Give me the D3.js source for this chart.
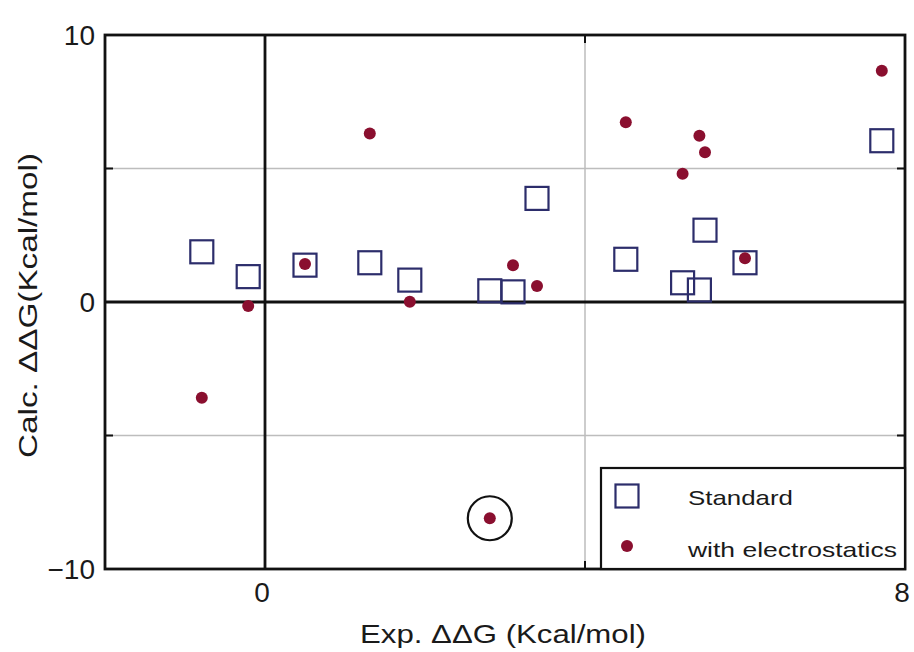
<!DOCTYPE html>
<html>
<head>
<meta charset="utf-8">
<script src="https://cdn.jsdelivr.net/npm/d3@7"></script>
<style>
  body { margin: 0; background: #fff; }
  text { font-family: "Liberation Sans", Arial, sans-serif; fill: #1a1a1a; }
</style>
</head>
<body>
<div id="chart"></div>
<script>
// DATA ///////////////////////////////////////////////////////////////////////
const expDDG   = [-0.79, -0.21, 0.5, 1.31, 1.81, 2.81, 3.1, 3.4, 4.51, 5.22, 5.43, 5.5, 6.0, 7.71];
const calcStd  = [1.88, 0.95, 1.38, 1.47, 0.82, 0.42, 0.38, 3.88, 1.6, 0.72, 0.45, 2.69, 1.47, 6.04];
const calcElec = [-3.59, -0.15, 1.42, 6.31, 0.01, -8.1, 1.38, 0.6, 6.73, 4.8, 6.23, 5.61, 1.64, 8.66];
const highlighted = [5];          // index of the circled point
const xTicks = [0, 8];
const yTicks = [-10, 0, 10];
const xGrid = [4];
const yGrid = [-5, 5];
const seriesNames = ["Standard", "with electrostatics"];

// SETUP //////////////////////////////////////////////////////////////////////
const w = 914, h = 652;
const sqColor = "#2c2d6b";
const dotColor = "#8a0f2f";

const x = d3.scaleLinear().domain([-2, 8]).range([105, 905]);
const y = d3.scaleLinear().domain([-10, 10]).range([569, 35]);

const svg = d3.select("#chart").append("svg")
  .attr("width", w)
  .attr("height", h);

// grid lines
svg.selectAll(".gx").data(xGrid).enter().append("line")
  .attr("x1", d => x(d)).attr("x2", d => x(d))
  .attr("y1", y(-10)).attr("y2", y(10))
  .attr("stroke", "#bdbdbd").attr("stroke-width", 1.5);
svg.selectAll(".gy").data(yGrid).enter().append("line")
  .attr("x1", x(-2)).attr("x2", x(8))
  .attr("y1", d => y(d)).attr("y2", d => y(d))
  .attr("stroke", "#bdbdbd").attr("stroke-width", 1.5);

// zero lines
svg.append("line")
  .attr("x1", x(0)).attr("x2", x(0)).attr("y1", y(-10)).attr("y2", y(10))
  .attr("stroke", "#111").attr("stroke-width", 2.8);
svg.append("line")
  .attr("x1", x(-2)).attr("x2", x(8)).attr("y1", y(0)).attr("y2", y(0))
  .attr("stroke", "#111").attr("stroke-width", 2.8);

// small inward ticks on all four sides
const tl = 8;
xGrid.forEach(v => {
  svg.append("line").attr("x1", x(v)).attr("x2", x(v)).attr("y1", y(10)).attr("y2", y(10) + tl).attr("stroke", "#111").attr("stroke-width", 2);
  svg.append("line").attr("x1", x(v)).attr("x2", x(v)).attr("y1", y(-10)).attr("y2", y(-10) - tl).attr("stroke", "#111").attr("stroke-width", 2);
});
yGrid.forEach(v => {
  svg.append("line").attr("x1", x(-2)).attr("x2", x(-2) + tl).attr("y1", y(v)).attr("y2", y(v)).attr("stroke", "#111").attr("stroke-width", 2);
  svg.append("line").attr("x1", x(8)).attr("x2", x(8) - tl).attr("y1", y(v)).attr("y2", y(v)).attr("stroke", "#111").attr("stroke-width", 2);
});

// frame
svg.append("rect")
  .attr("x", x(-2)).attr("y", y(10))
  .attr("width", x(8) - x(-2)).attr("height", y(-10) - y(10))
  .attr("fill", "none").attr("stroke", "#111").attr("stroke-width", 2.8);

// tick labels
svg.selectAll(".xt").data(xTicks).enter().append("text")
  .attr("x", d => x(d) - 3).attr("y", 602)
  .attr("text-anchor", "middle")
  .attr("font-size", "28px")
  .text(d => d);
svg.selectAll(".yt").data(yTicks).enter().append("text")
  .attr("x", x(-2) - 10).attr("y", d => y(d) + 10)
  .attr("text-anchor", "end")
  .attr("font-size", "28px")
  .text(d => d < 0 ? "\u2212" + Math.abs(d) : d);

// axis labels (picture is a bit stretched horizontally)
svg.append("text")
  .attr("x", 360).attr("y", 643)
  .attr("font-size", "26px")
  .attr("textLength", 286).attr("lengthAdjust", "spacingAndGlyphs")
  .text("Exp. \u0394\u0394G (Kcal/mol)");
svg.append("text")
  .attr("transform", "translate(37,458) rotate(-90)")
  .attr("font-size", "26px")
  .attr("textLength", 305).attr("lengthAdjust", "spacingAndGlyphs")
  .text("Calc. \u0394\u0394G(Kcal/mol)");

// POINTS /////////////////////////////////////////////////////////////////////
const sq = 23;
svg.selectAll(".std").data(expDDG).enter().append("rect")
  .attr("x", (d, i) => x(d) - sq / 2)
  .attr("y", (d, i) => y(calcStd[i]) - sq / 2)
  .attr("width", sq).attr("height", sq)
  .attr("fill", "none")
  .attr("stroke", sqColor).attr("stroke-width", 2.2);

svg.selectAll(".elec").data(expDDG).enter().append("circle")
  .attr("cx", d => x(d))
  .attr("cy", (d, i) => y(calcElec[i]))
  .attr("r", 6)
  .attr("fill", dotColor);

svg.selectAll(".hl").data(highlighted).enter().append("circle")
  .attr("cx", i => x(expDDG[i]))
  .attr("cy", i => y(calcElec[i]))
  .attr("r", 22)
  .attr("fill", "none")
  .attr("stroke", "#111").attr("stroke-width", 2.2);

// LEGEND /////////////////////////////////////////////////////////////////////
const lg = svg.append("g");
lg.append("rect")
  .attr("x", 601).attr("y", 468)
  .attr("width", x(8) - 601).attr("height", y(-10) - 468)
  .attr("fill", "#fff").attr("stroke", "#111").attr("stroke-width", 2.2);
lg.append("rect")
  .attr("x", 627 - sq / 2).attr("y", 496 - sq / 2)
  .attr("width", sq).attr("height", sq)
  .attr("fill", "none").attr("stroke", sqColor).attr("stroke-width", 2.2);
lg.append("circle")
  .attr("cx", 627).attr("cy", 546).attr("r", 6)
  .attr("fill", dotColor);
lg.selectAll(".lt").data(seriesNames).enter().append("text")
  .attr("x", 688)
  .attr("y", (d, i) => 505 + i * 52)
  .attr("font-size", "21px")
  .attr("textLength", (d, i) => i === 0 ? 105 : 209)
  .attr("lengthAdjust", "spacingAndGlyphs")
  .text(d => d);
</script>
</body>
</html>
